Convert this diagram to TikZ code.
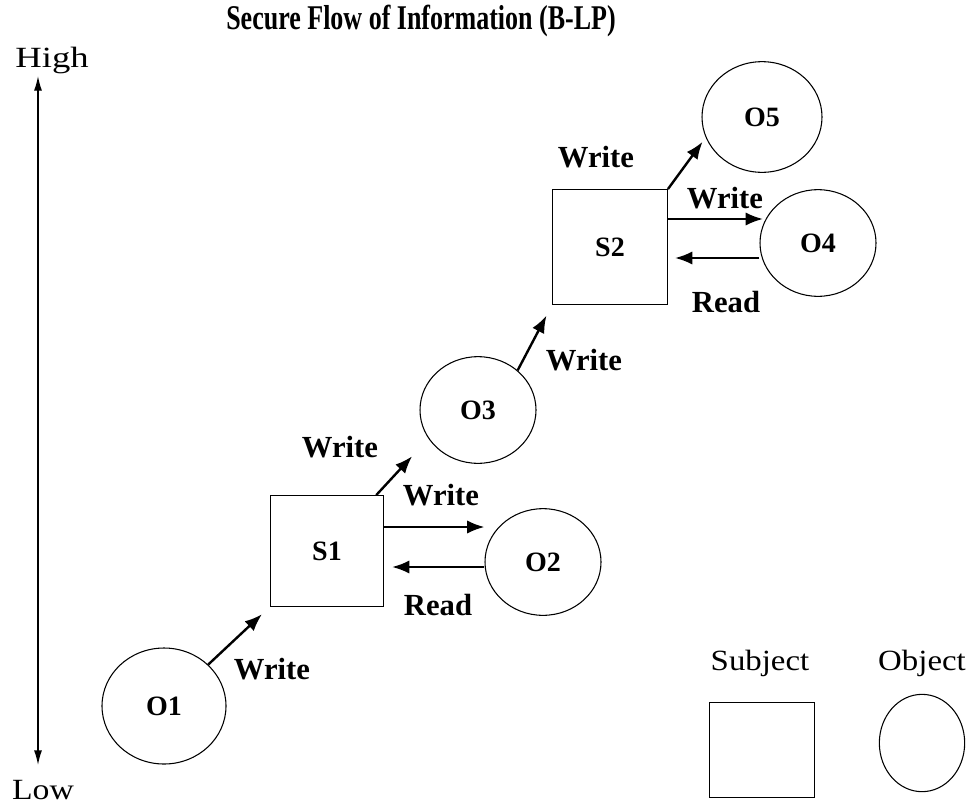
\documentclass[tikz,border=0pt]{standalone}
\usepackage{fontspec}
\setmainfont{Liberation Serif}
\usepackage{graphicx}
\usetikzlibrary{positioning,shapes.geometric,arrows.meta}

\begin{document}
\begin{tikzpicture}[x=0.75pt, y=-0.75pt,
	subj/.style={rectangle, draw, line width=0.9pt, minimum width=85pt, minimum height=83pt, font=\fontsize{21}{21}\selectfont\bfseries},
	obj/.style={ellipse, draw, line width=0.8pt, minimum width=87pt, minimum height=80pt, font=\fontsize{21}{21}\selectfont\bfseries},
	flow/.style={line width=1.8pt, -{Latex[length=13pt, width=10pt]}},
	lbl/.style={font=\fontsize{23}{23}\selectfont\bfseries}]
	\useasboundingbox (0,0) rectangle (966,810);

	\node (title) at (421,21) {\scalebox{0.75}[1]{\fontsize{26}{26}\selectfont\bfseries Secure Flow of Information (B-LP)}};
	\node (high) at (52,60) {\scalebox{1.25}[1]{\fontsize{22}{22}\selectfont High}};
	\node (low) at (43,790) {\scalebox{1.15}[1]{\fontsize{22}{22}\selectfont Low}};
	\coordinate (top) at (38,76);
	\coordinate (bot) at (38,765);
	\draw[line width=1pt, {Latex[length=11pt, width=6pt]}-{Latex[length=11pt, width=6pt]}] (top) -- (bot);

	\node[obj, minimum width=93pt, minimum height=87pt] (o1) at (164,706) {O1};
	\node[subj] (s1) at (327,551) {S1};
	\node[obj] (o2) at (543,562) {O2};
	\node[obj] (o3) at (478,410) {O3};
	\node[subj, minimum width=86pt, minimum height=86pt] (s2) at (610,247) {S2};
	\node[obj] (o4) at (818,243) {O4};
	\node[obj, minimum width=90pt, minimum height=83pt] (o5) at (762,117) {O5};

	\draw[flow, shorten >=8pt] (o1) -- (s1.south west);
	\draw[flow] (s1.east |- 0,527) -- (477,527 -| o2.west);
	\draw[flow] (o2.west |- 0,567) -- (392,567);
	\draw[flow, shorten >=18pt] ([xshift=-6pt]s1.north east) -- (o3.210);
	\draw[flow, shorten >=9pt] (o3.45) -- (s2.south west);
	\draw[flow, shorten >=4pt] (s2.north east) -- (o5.200);
	\draw[flow] (s2.east |- 0,219) -- (763,219);
	\draw[flow] (o4.west |- 0,258) -- (675,258);

	\node[lbl] (w1) at (272,669) {Write};
	\node[lbl] (w2) at (441,495) {Write};
	\node[lbl] (r1) at (438,605) {Read};
	\node[lbl] (w3) at (340,447) {Write};
	\node[lbl] (w4) at (584,360) {Write};
	\node[lbl] (w5) at (596,157) {Write};
	\node[lbl] (w6) at (725,198) {Write};
	\node[lbl] (r2) at (726,302) {Read};

	\node (subject) at (760,663) {\scalebox{1.12}[1]{\fontsize{22}{22}\selectfont Subject}};
	\node (object) at (922,663) {\scalebox{1.12}[1]{\fontsize{22}{22}\selectfont Object}};
	\node[subj, minimum width=79pt, minimum height=71pt] (s0) at (762,750) {};
	\node[obj, minimum width=64pt, minimum height=73pt] (o0) at (922,743) {};
\end{tikzpicture}
\end{document}
